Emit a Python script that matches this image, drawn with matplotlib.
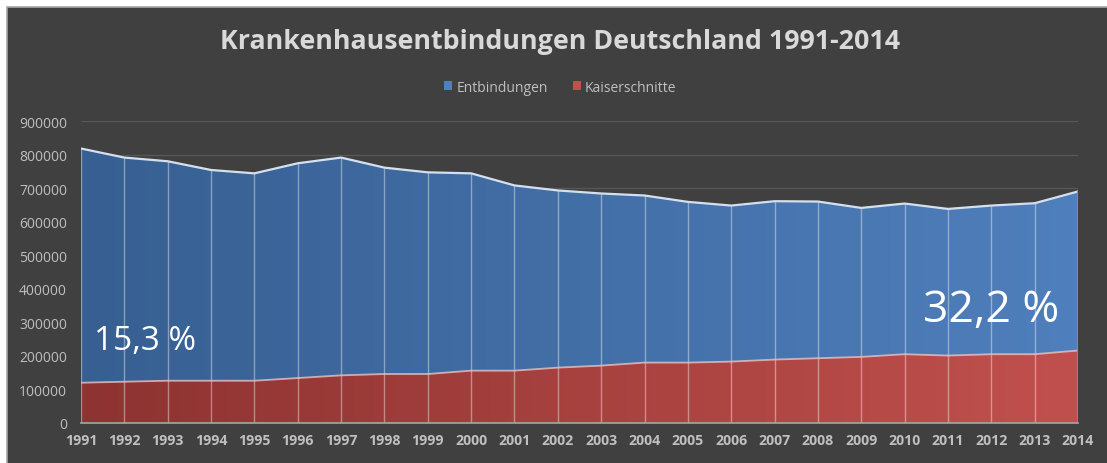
import numpy as np
import matplotlib
matplotlib.use("Agg")
import matplotlib.pyplot as plt
from matplotlib.patches import Polygon, Rectangle, Patch
from matplotlib.colors import LinearSegmentedColormap

# Daten
years = list(range(1991, 2015))
entbindungen = [818000, 791000, 780000, 754000, 744000, 774000, 791000, 761000,
                747000, 744000, 708000, 693000, 684000, 678000, 659000, 648000,
                661000, 660000, 641000, 654000, 638000, 648000, 655000, 690000]
kaiserschnitte = [120000, 123000, 126000, 126000, 126000, 134000, 142000, 146000,
                  146000, 156000, 156000, 165000, 171000, 180000, 180000, 183000,
                  189000, 193000, 197000, 205000, 201000, 205000, 205000, 216000]
y_ticks = list(range(0, 900001, 100000))
title = "Krankenhausentbindungen Deutschland 1991-2014"
labels = ["Entbindungen", "Kaiserschnitte"]
quote_1991 = "15,3 %"
quote_2014 = "32,2 %"

BG = "#404040"
TXT = "#bfbfbf"
plt.rcParams["font.family"] = ["Open Sans", "DejaVu Sans"]

fig = plt.figure(figsize=(11.07, 4.64), dpi=100)
fig.patch.set_facecolor("white")
# dunkler Hintergrund mit weissem Rand oben/links
fig.patches.append(Rectangle((7 / 1107, -0.01), 1.0, 1.01 - 8 / 464, transform=fig.transFigure,
                             facecolor=BG, edgecolor="#a6a6a6", linewidth=1.2, zorder=-10))

ax = fig.add_axes([81 / 1107, 40 / 464, 997 / 1107, 302 / 464])
ax.patch.set_alpha(0)

x = np.array(years)


def gradient_area(values, c_left, c_right, z):
    verts = np.column_stack([np.concatenate([x, x[::-1]]),
                             np.concatenate([values, np.zeros(len(values))])])
    poly = Polygon(verts, closed=True, facecolor="none", edgecolor="none")
    ax.add_patch(poly)
    cmap = LinearSegmentedColormap.from_list("g", [c_left, c_right])
    grad = np.linspace(0, 1, 256).reshape(1, -1)
    im = ax.imshow(grad, extent=[years[0], years[-1], 0, 900000], aspect="auto",
                   cmap=cmap, zorder=z, interpolation="bilinear")
    im.set_clip_path(poly)


gradient_area(entbindungen, "#375f92", "#4f7fbc", 2)
gradient_area(kaiserschnitte, "#8d3331", "#c0504d", 3)

# Gitterlinien
ax.hlines(y_ticks[1:], years[0], years[-1], color="#585858", linewidth=0.9, zorder=1)

# vertikale Linien je Jahr
ax.vlines(years, 0, entbindungen, color="white", alpha=0.4, linewidth=1.0, zorder=4)
ax.plot(years, entbindungen, color="#d5e0ee", linewidth=1.6, zorder=5)
ax.plot(years, kaiserschnitte, color="#e8c4c3", linewidth=1.3, alpha=0.8, zorder=5)
ax.vlines([years[-1]], 0, entbindungen[-1], color="#8c8c8c", linewidth=1.2, zorder=5)

ax.set_xlim(years[0], years[-1])
ax.set_ylim(0, 900000)
for s in ["top", "right", "left"]:
    ax.spines[s].set_visible(False)
ax.spines["bottom"].set_color("#a6a6a6")
ax.spines["bottom"].set_linewidth(1.2)
ax.spines["bottom"].set_zorder(6)

ax.set_yticks(y_ticks)
ax.set_yticklabels([str(v) for v in y_ticks])
ax.set_xticks(years)
ax.set_xticklabels([str(v) for v in years], fontweight="bold")
ax.tick_params(axis="y", length=0, pad=10, labelsize=10, labelcolor=TXT)
ax.tick_params(axis="x", length=0, pad=7, labelsize=10.2, labelcolor=TXT)

ax.text(1992.48, 245000, quote_1991, color="white", fontsize=24,
        ha="center", va="center", zorder=6)
ax.text(2011.99, 337000, quote_2014, color="white", fontsize=32,
        ha="center", va="center", zorder=6)

fig.text(0.506, 1 - 42 / 464, title, color="#d9d9d9", fontsize=19.3,
         fontweight="bold", ha="center", va="center")

handles = [Patch(facecolor="#4f81bd", edgecolor="none"),
           Patch(facecolor="#c0504d", edgecolor="none")]
fig.legend(handles, labels, loc="center", bbox_to_anchor=(0.506, 1 - 88 / 464),
           ncol=2, frameon=False, fontsize=10, labelcolor=TXT,
           handlelength=0.6, handleheight=0.6, handletextpad=0.3, columnspacing=1.8)

fig.savefig("out.png", dpi=100, facecolor=fig.get_facecolor())
